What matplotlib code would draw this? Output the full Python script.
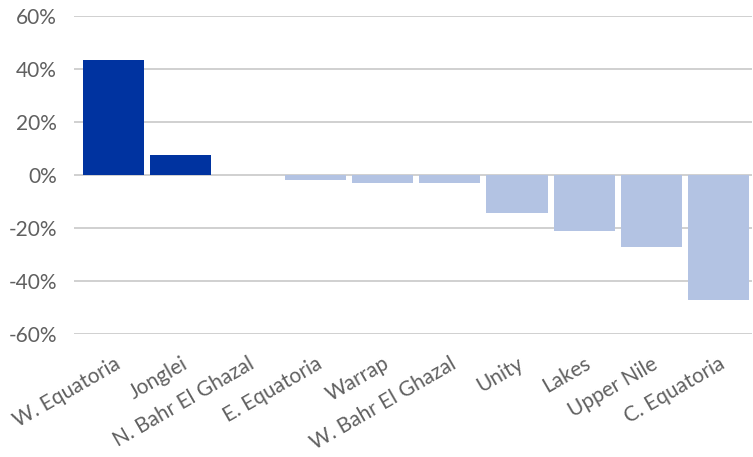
import matplotlib
matplotlib.use("Agg")
import matplotlib.pyplot as plt
from matplotlib.ticker import FuncFormatter

categories = ["W. Equatoria", "Jonglei", "N. Bahr El Ghazal", "E. Equatoria", "Warrap",
              "W. Bahr El Ghazal", "Unity", "Lakes", "Upper Nile", "C. Equatoria"]
values = [43.5, 7.5, 0.0, -1.9, -2.9, -2.9, -14.5, -21.2, -27.2, -47.0]
yticks = [-60, -40, -20, 0, 20, 40, 60]

dark = "#0033A0"
light = "#B3C3E3"
colors = [dark if v > 0 else light for v in values]

plt.rcParams['font.family'] = ['Lato', 'DejaVu Sans']

fig = plt.figure(figsize=(7.53, 4.57), dpi=100)
ax = fig.add_axes([0.098, 0.269, 0.901, 0.696])
x = list(range(len(categories)))
ax.bar(x, values, width=0.91, color=colors, zorder=3)
ax.set_xlim(-0.59, len(categories) - 0.5)
ax.set_ylim(-60, 60)
ax.set_yticks(yticks)
ax.yaxis.set_major_formatter(FuncFormatter(lambda v, p: f"{int(v)}%"))
ax.grid(axis='y', color="#C8C8C8", linewidth=1.2, zorder=0)
for s in ax.spines.values():
    s.set_visible(False)
ax.tick_params(axis='both', length=0, labelsize=15, labelcolor="#606060")
ax.tick_params(axis='y', pad=12)
ax.set_xticks(x)
ax.set_xticklabels(categories, rotation=30, ha='right', rotation_mode='anchor')
ax.tick_params(axis='x', pad=14)
fig.savefig("out.png", dpi=100)
